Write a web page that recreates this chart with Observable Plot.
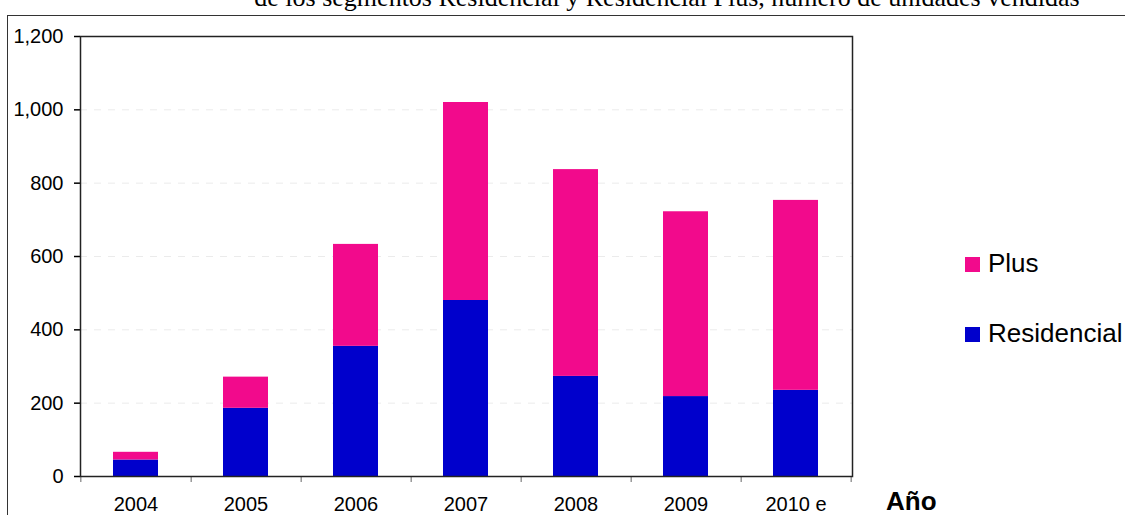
<!DOCTYPE html>
<html><head><meta charset="utf-8">
<script src="https://cdn.jsdelivr.net/npm/d3@7"></script>
<script src="https://cdn.jsdelivr.net/npm/@observablehq/plot@0.6"></script>
<style>
html,body{margin:0;padding:0;background:#fff;}
#wrap{position:relative;width:1125px;height:515px;overflow:hidden;font-family:"Liberation Sans",Arial,Helvetica,sans-serif;color:#000;}
#title{position:absolute;left:0;width:1334px;text-align:center;top:-15px;font-family:"Liberation Serif","Times New Roman",serif;font-size:26px;line-height:26px;white-space:nowrap;}
#box{position:absolute;left:7px;top:15px;width:1300px;height:700px;border-left:1.5px solid #333;border-top:1.5px solid #333;}
#chart{position:absolute;left:0;top:0;}
.sw{position:absolute;width:15px;height:15px;}
.lb{position:absolute;font-size:26px;line-height:26px;white-space:nowrap;}
#xlabel{position:absolute;left:886px;top:488px;font-size:26px;line-height:26px;font-weight:bold;}
</style>
</head><body>
<div id="wrap">
  <div id="title">de los segmentos Residencial y Residencial Plus, número de unidades vendidas</div>
  <div id="box"></div>
  <div id="chart"></div>
  <div id="legend"></div>
  <div id="xlabel">Año</div>
</div>
<script>
const years = ["2004","2005","2006","2007","2008","2009","2010 e"];
const residencial = [45, 186, 355, 480, 273, 218, 235];
const plus = [21, 85, 278, 540, 564, 504, 518];
const seriesNames = ["Residencial", "Plus"];
const seriesColors = ["#0000cc", "#f20a8c"];
const legendOrder = ["Plus", "Residencial"];
const yTicks = [0, 200, 400, 600, 800, 1000, 1200];
const gridTicks = [200, 400, 600, 800, 1000];

const rows = [];
years.forEach((y, i) => {
  rows.push({year: y, series: "Residencial", value: residencial[i]});
  rows.push({year: y, series: "Plus", value: plus[i]});
});

const W = 1125, H = 515, mL = 80, mR = 273, mT = 36, mB = 39;
const step = (W - mL - mR) / years.length;

const chart = Plot.plot({
  width: W, height: H,
  marginLeft: mL, marginRight: mR, marginTop: mT, marginBottom: mB,
  style: {fontFamily: "Liberation Sans, Arial, Helvetica, sans-serif", fontSize: "20px", color: "#000", background: "transparent"},
  x: {domain: years, paddingInner: 0.59, paddingOuter: 0.295, axis: null},
  y: {domain: [0, 1200], axis: null},
  color: {domain: seriesNames, range: seriesColors},
  marks: [
    Plot.gridY(gridTicks, {stroke: "#ebebeb", strokeOpacity: 1, strokeDasharray: "7,7"}),
    Plot.barY(rows, {x: "year", y: "value", fill: "series"}),
    Plot.axisY(yTicks, {tickSize: 6, tickPadding: 11, tickFormat: d3.format(","), stroke: "#000", strokeWidth: 1.5, label: null}),
    Plot.axisX(years, {tickSize: 0, tickPadding: 20, label: null}),
    Plot.axisX(years, {tickSize: 6, tickFormat: () => "", dx: step / 2, stroke: "#666", label: null}),
    Plot.axisX([years[0]], {tickSize: 6, tickFormat: () => "", dx: -step / 2, stroke: "#666", label: null}),
    Plot.frame({stroke: "#222", strokeWidth: 1.5})
  ]
});
document.getElementById("chart").appendChild(chart);

const legendTops = [250, 320];
const legend = document.getElementById("legend");
legendOrder.forEach((name, i) => {
  const sw = document.createElement("div");
  sw.className = "sw";
  sw.style.left = "965px";
  sw.style.top = (legendTops[i] + 7) + "px";
  sw.style.background = seriesColors[seriesNames.indexOf(name)];
  legend.appendChild(sw);
  const lb = document.createElement("div");
  lb.className = "lb";
  lb.style.left = "988px";
  lb.style.top = legendTops[i] + "px";
  lb.textContent = name;
  legend.appendChild(lb);
});
</script>
</body></html>
